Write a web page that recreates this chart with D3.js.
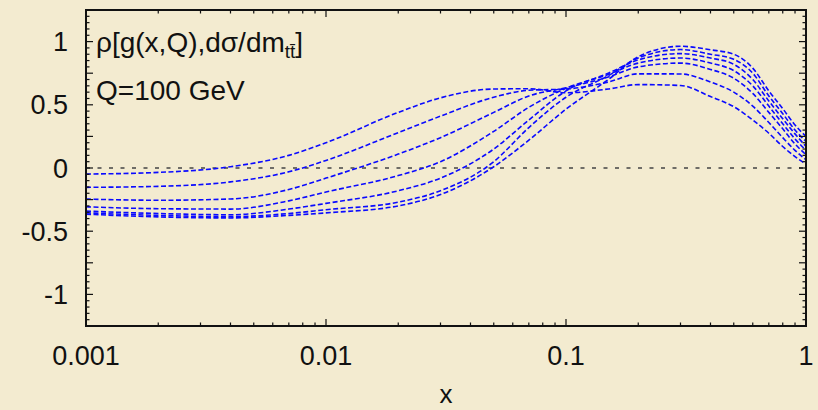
<!DOCTYPE html>
<html>
<head>
<meta charset="utf-8">
<script src="https://cdn.jsdelivr.net/npm/d3@7"></script>
<style>
  body { margin: 0; background: #f3ebd0; }
  svg { display: block; }
  text { font-family: "Liberation Sans", Arial, Helvetica, sans-serif; fill: #111; }
</style>
</head>
<body>
<div class="chart"></div>
<script>
// x grid (log scale) and the seven correlation curves
var xVals = [0.001, 0.002, 0.004, 0.007, 0.01, 0.02, 0.03, 0.05, 0.07, 0.1,
             0.15, 0.2, 0.3, 0.4, 0.5, 0.6, 0.7, 0.8, 0.9, 1.0];

var curve1 = [-0.048, -0.035, 0.01, 0.10, 0.20, 0.44, 0.555, 0.625, 0.627, 0.595,
              0.625, 0.66, 0.653, 0.565, 0.485, 0.38, 0.275, 0.17, 0.09, 0.03];
var curve2 = [-0.153, -0.145, -0.11, -0.03, 0.06, 0.28, 0.41, 0.56, 0.615, 0.625,
              0.68, 0.745, 0.744, 0.68, 0.60, 0.49, 0.36, 0.24, 0.14, 0.065];
var curve3 = [-0.246, -0.255, -0.245, -0.17, -0.08, 0.11, 0.24, 0.44, 0.57, 0.635,
              0.72, 0.80, 0.83, 0.78, 0.71, 0.59, 0.44, 0.31, 0.19, 0.105];
var curve4 = [-0.307, -0.322, -0.325, -0.26, -0.19, -0.06, 0.05, 0.29, 0.48, 0.63,
              0.74, 0.83, 0.87, 0.83, 0.77, 0.65, 0.49, 0.35, 0.23, 0.14];
var curve5 = [-0.341, -0.36, -0.37, -0.325, -0.28, -0.18, -0.08, 0.15, 0.38, 0.61,
              0.75, 0.855, 0.905, 0.87, 0.82, 0.70, 0.53, 0.39, 0.27, 0.17];
var curve6 = [-0.355, -0.375, -0.385, -0.36, -0.33, -0.27, -0.18, 0.05, 0.32, 0.56,
              0.73, 0.87, 0.937, 0.90, 0.86, 0.75, 0.57, 0.43, 0.30, 0.21];
var curve7 = [-0.365, -0.387, -0.395, -0.375, -0.355, -0.30, -0.21, 0.01, 0.22, 0.465,
              0.70, 0.88, 0.963, 0.935, 0.90, 0.79, 0.61, 0.47, 0.34, 0.25];

var curves = [curve1, curve2, curve3, curve4, curve5, curve6, curve7];

var xTickVals = [0.001, 0.01, 0.1, 1];
var xTickLabels = ['0.001', '0.01', '0.1', '1'];
var yTickVals = [-1, -0.5, 0, 0.5, 1];
var yTickLabels = ['-1', '-0.5', '0', '0.5', '1'];

// layout
var w = 818
  , h = 410
  , plotL = 86
  , plotR = 806
  , plotT = 10
  , plotB = 326;

var svg = d3.select('.chart')
            .append('svg')
            .attr('width', w)
            .attr('height', h);

svg.append('rect')
   .attr('width', w)
   .attr('height', h)
   .attr('fill', '#f3ebd0');

var x = d3.scaleLog().domain([0.001, 1]).range([plotL, plotR]);
var y = d3.scaleLinear().domain([-1.25, 1.25]).range([plotB, plotT]);

// zero line
svg.append('line')
   .attr('x1', plotL).attr('x2', plotR)
   .attr('y1', y(0)).attr('y2', y(0))
   .attr('stroke', '#444')
   .attr('stroke-width', 1.3)
   .attr('stroke-dasharray', '4,7.5');

// curves
var line = d3.line()
             .x(function (d, i) { return x(xVals[i]); })
             .y(function (d) { return y(d); })
             .curve(d3.curveMonotoneX);

svg.selectAll('path.curve')
   .data(curves)
   .enter()
   .append('path')
   .attr('class', 'curve')
   .attr('d', line)
   .attr('fill', 'none')
   .attr('stroke', '#0a0aff')
   .attr('stroke-width', 1.6)
   .attr('stroke-dasharray', '5,2.5');

// ticks, all pointing inward on the four sides
var minorX = [];
for (var e = -3; e < 0; e++) {
  for (var k = 2; k <= 9; k++) minorX.push(k * Math.pow(10, e));
}
var minorY = d3.range(-1.25, 1.2501, 0.05).map(function (v) { return +v.toFixed(2); });
var majorY = d3.range(-1.25, 1.2501, 0.25).map(function (v) { return +v.toFixed(2); });

var ticks = svg.append('g').attr('stroke', '#111').attr('stroke-width', 1.2);

xTickVals.concat(minorX).forEach(function (v) {
  var len = xTickVals.indexOf(v) >= 0 ? 7 : 3.5;
  ticks.append('line').attr('x1', x(v)).attr('x2', x(v)).attr('y1', plotB).attr('y2', plotB - len);
  ticks.append('line').attr('x1', x(v)).attr('x2', x(v)).attr('y1', plotT).attr('y2', plotT + len);
});

minorY.forEach(function (v) {
  var len = majorY.indexOf(v) >= 0 ? 7 : 3.5;
  ticks.append('line').attr('x1', plotL).attr('x2', plotL + len).attr('y1', y(v)).attr('y2', y(v));
  ticks.append('line').attr('x1', plotR).attr('x2', plotR - len).attr('y1', y(v)).attr('y2', y(v));
});

// frame
svg.append('rect')
   .attr('x', plotL).attr('y', plotT)
   .attr('width', plotR - plotL).attr('height', plotB - plotT)
   .attr('fill', 'none')
   .attr('stroke', '#111')
   .attr('stroke-width', 2);

// tick labels
svg.selectAll('text.xlab')
   .data(xTickVals)
   .enter()
   .append('text')
   .attr('class', 'xlab')
   .attr('x', function (d) { return x(d); })
   .attr('y', 365)
   .attr('text-anchor', 'middle')
   .attr('font-size', 27)
   .text(function (d, i) { return xTickLabels[i]; });

svg.selectAll('text.ylab')
   .data(yTickVals)
   .enter()
   .append('text')
   .attr('class', 'ylab')
   .attr('x', 68)
   .attr('y', function (d) { return y(d) + 9.5; })
   .attr('text-anchor', 'end')
   .attr('font-size', 27)
   .text(function (d, i) { return yTickLabels[i]; });

// axis title
svg.append('text')
   .attr('x', (plotL + plotR) / 2)
   .attr('y', 403)
   .attr('text-anchor', 'middle')
   .attr('font-size', 26)
   .text('x');

// annotations
var title = svg.append('text')
               .attr('x', 96)
               .attr('y', 52)
               .attr('font-size', 28);
title.append('tspan').text('ρ[g(x,Q),dσ/dm');
title.append('tspan').attr('font-size', 19).attr('dy', 6).text('tt\u0304');
title.append('tspan').attr('dy', -6).text(']');

svg.append('text')
   .attr('x', 96)
   .attr('y', 100)
   .attr('font-size', 28)
   .text('Q=100 GeV');
</script>
</body>
</html>
